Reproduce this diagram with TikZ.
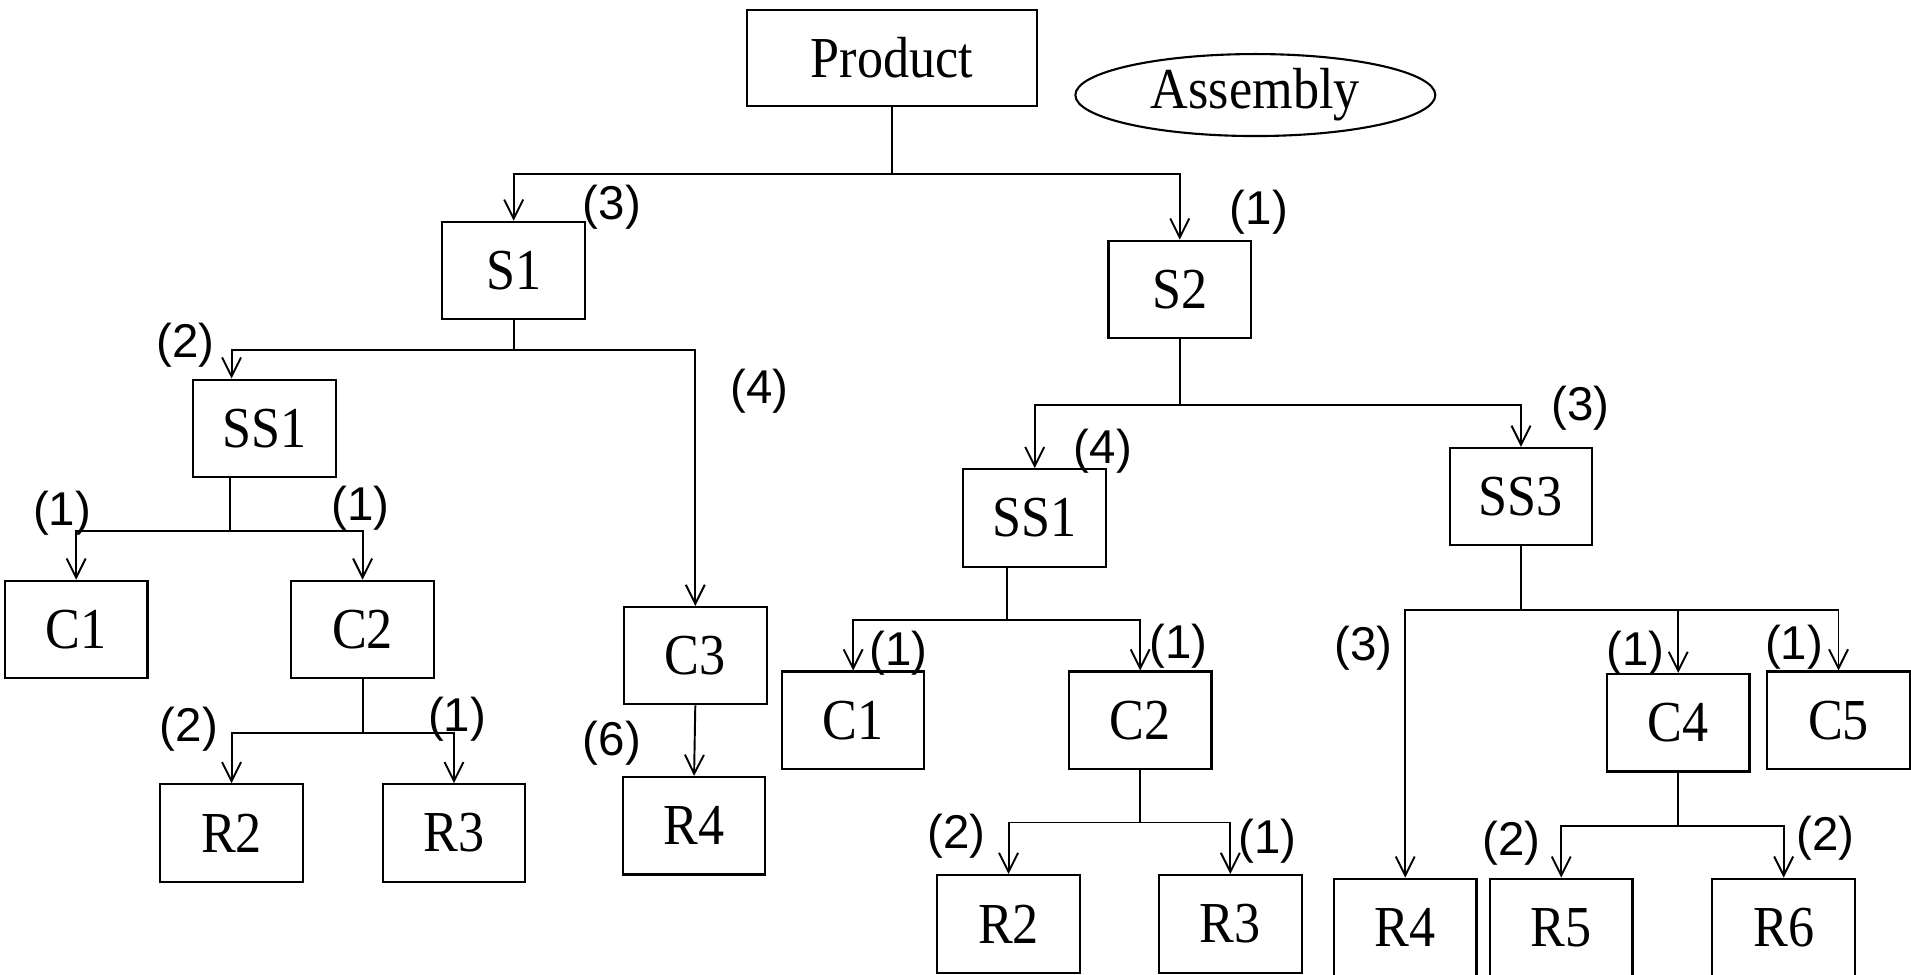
\documentclass[tikz,border=0pt]{standalone}
\usepackage{fontspec}
\setmainfont{Liberation Serif}
\newfontfamily\qtyfont{Liberation Sans}
\usetikzlibrary{calc,arrows.meta,shapes.geometric}
\newcommand\pn[1]{\scalebox{0.9}[1]{#1}}
\tikzset{
	part/.style={draw, line width=0.6pt, minimum width=14.26mm, minimum height=9.75mm, inner sep=0pt, font=\fontsize{16.5}{19}\selectfont},
	qty/.style={inner sep=0pt, font=\qtyfont\fontsize{13.5}{16}\selectfont},
	link/.style={line width=0.55pt},
	feed/.style={link, -{Straight Barb[length=1.9mm, width=1.9mm]}},
}

\begin{document}
\begin{tikzpicture}[x=0.12188mm, y=-0.12188mm]
\useasboundingbox (0,0) rectangle (1568,800);

% top level
\node[part, minimum width=29mm, minimum height=9.63mm] (prod) at (732,47.5) {\pn{Product}};
\node[draw, ellipse, line width=0.6pt, minimum width=36mm, minimum height=8.2mm, inner sep=0pt, font=\fontsize{16.5}{19}\selectfont] (asm) at (1030,78) {\pn{Assembly}};

% left branch
\node[part] (s1) at (421.5,222) {\pn{S1}};
\node[part] (ssa) at (217,351.5) {\pn{SS1}};
\node[part] (c1a) at (62.5,516.5) {\pn{C1}};
\node[part] (c2a) at (297.5,516.5) {\pn{C2}};
\node[part] (c3) at (570.5,538) {\pn{C3}};
\node[part] (r2a) at (190,683.5) {\pn{R2}};
\node[part] (r3a) at (372.5,683.5) {\pn{R3}};
\node[part] (r4a) at (569.5,677.5) {\pn{R4}};

% right branch
\node[part] (s2) at (968,237.5) {\pn{S2}};
\node[part] (ssb) at (849,425) {\pn{SS1}};
\node[part] (ss3) at (1248,407.5) {\pn{SS3}};
\node[part] (c1b) at (700,591) {\pn{C1}};
\node[part] (c2b) at (935.5,591) {\pn{C2}};
\node[part] (r2b) at (827.5,758) {\pn{R2}};
\node[part] (r3b) at (1009.5,758) {\pn{R3}};
\node[part] (c4) at (1377,593) {\pn{C4}};
\node[part] (c5) at (1508.5,591) {\pn{C5}};
\node[part] (r4b) at (1153,761) {\pn{R4}};
\node[part] (r5) at (1281,761) {\pn{R5}};
\node[part] (r6) at (1463.5,761) {\pn{R6}};

% connectors
\draw[link] (prod.south) -- ++(0,55) coordinate (jp);
\draw[feed] (jp) -| (s1.north);
\draw[feed] (jp) -| (s2.north);

\draw[link] (s1.south) -- ++(0,24) coordinate (js1);
\draw[feed] (js1) -| ($(ssa.north)+(-27,0)$);
\draw[feed] (js1) -| (c3.north);

\draw[link] ($(ssa.south)+(-28,0)$) -- ++(0,43) coordinate (jssa);
\draw[feed] (jssa) -| (c1a.north);
\draw[feed] (jssa) -| (c2a.north);

\draw[link] (c2a.south) -- ++(0,44) coordinate (jc2a);
\draw[feed] (jc2a) -| (r2a.north);
\draw[feed] (jc2a) -| (r3a.north);

\draw[feed] (c3.south) -- (r4a.north);

\draw[link] (s2.south) -- ++(0,54) coordinate (js2);
\draw[feed] (js2) -| (ssb.north);
\draw[feed] (js2) -| (ss3.north);

\draw[link] ($(ssb.south)+(-23,0)$) -- ++(0,43) coordinate (jssb);
\draw[feed] (jssb) -| (c1b.north);
\draw[feed] (jssb) -| (c2b.north);

\draw[link] (c2b.south) -- ++(0,43) coordinate (jc2b);
\draw[feed] (jc2b) -| (r2b.north);
\draw[feed] (jc2b) -| (r3b.north);

\draw[link] (ss3.south) -- ++(0,52) coordinate (jss3);
\draw[feed] (jss3) -| (r4b.north);
\draw[feed] (jss3) -| (c4.north);
\draw[feed] (jss3) -| (c5.north);

\draw[link] (c4.south) -- ++(0,44) coordinate (jc4);
\draw[feed] (jc4) -| (r5.north);
\draw[feed] (jc4) -| (r6.north);

% quantities
\node[qty] (q1) at (502,170) {(3)};
\node[qty] (q2) at (1033,174) {(1)};
\node[qty] (q3) at (152,283) {(2)};
\node[qty] (q4) at (623,321) {(4)};
\node[qty] (q5) at (51,421) {(1)};
\node[qty] (q6) at (296,417) {(1)};
\node[qty] (q7) at (155,598) {(2)};
\node[qty] (q8) at (375,590) {(1)};
\node[qty] (q9) at (502,610) {(6)};
\node[qty] (q10) at (905,370) {(4)};
\node[qty] (q11) at (1297,335) {(3)};
\node[qty] (q12) at (737,536) {(1)};
\node[qty] (q13) at (967,530) {(1)};
\node[qty] (q14) at (785,686) {(2)};
\node[qty] (q15) at (1040,690) {(1)};
\node[qty] (q16) at (1119,532) {(3)};
\node[qty] (q17) at (1342,536) {(1)};
\node[qty] (q18) at (1472,531) {(1)};
\node[qty] (q19) at (1240,692) {(2)};
\node[qty] (q20) at (1498,688) {(2)};
\end{tikzpicture}
\end{document}
